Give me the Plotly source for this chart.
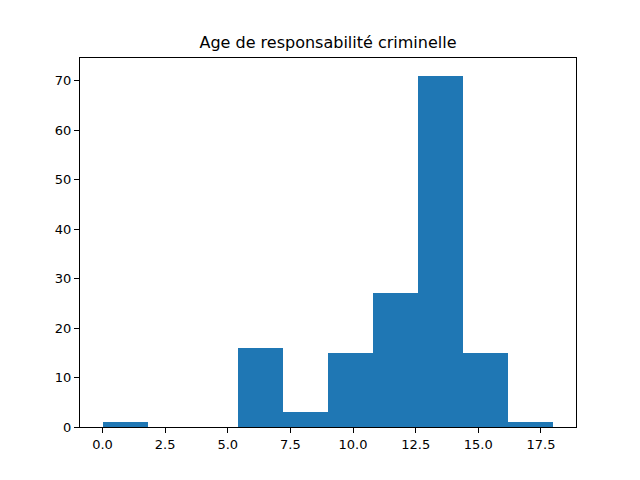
import numpy as np
import plotly.graph_objects as go

counts = [1, 0, 0, 16, 3, 15, 27, 71, 15, 1]
edges = np.linspace(0, 18, 11)
centers = (edges[:-1] + edges[1:]) / 2
width = edges[1] - edges[0]

xticks = [0, 2.5, 5, 7.5, 10, 12.5, 15, 17.5]
xlabels = ["0.0", "2.5", "5.0", "7.5", "10.0", "12.5", "15.0", "17.5"]
yticks = [0, 10, 20, 30, 40, 50, 60, 70]

fig = go.Figure(go.Bar(x=centers, y=counts, width=width, marker_color="#1f77b4",
                       marker_line_width=0))

axis = dict(showgrid=False, zeroline=False, showline=True, linecolor="black",
            linewidth=1, mirror=True, ticks="outside", ticklen=5, tickcolor="black",
            tickfont=dict(size=13, color="black"))
fig.update_xaxes(range=[-0.9, 18.9], tickvals=xticks, ticktext=xlabels, **axis)
fig.update_yaxes(range=[0, 74.55], tickvals=yticks, **axis)
fig.update_layout(
    width=640, height=480,
    margin=dict(l=72, r=72, t=50, b=61),
    paper_bgcolor="white", plot_bgcolor="white",
    font=dict(family="DejaVu Sans", color="black"),
    title=dict(text="Age de responsabilité criminelle", x=0.5, xanchor="center",
               y=0.929, yanchor="middle", font=dict(size=16)),
    bargap=0, showlegend=False,
)
fig.write_html("out.html")
